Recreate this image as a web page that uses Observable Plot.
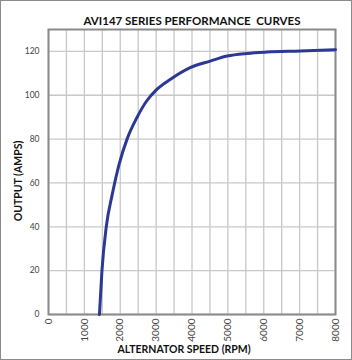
<!DOCTYPE html>
<html>
<head>
<meta charset="utf-8">
<script src="https://cdn.jsdelivr.net/npm/d3@7"></script>
<script src="https://cdn.jsdelivr.net/npm/@observablehq/plot@0.6"></script>
<style>
  html, body { margin: 0; padding: 0; background: #fff; }
  #chart svg { display: block; outline: 1.5px solid #8a8a8a; outline-offset: -1.5px; }
</style>
</head>
<body>
<div id="chart"></div>
<script>
const title = "AVI147 SERIES PERFORMANCE  CURVES";
const xLabel = "ALTERNATOR SPEED (RPM)";
const yLabel = "OUTPUT (AMPS)";
const rpm  = [1420, 1490, 1610, 1780, 1970, 2190, 2470, 2740, 3020, 3400, 3950, 4510, 4980, 5540, 6090, 7020, 8000];
const amps = [0, 20, 40, 55, 68.6, 80, 90, 97.5, 102.7, 107.3, 112.6, 115.6, 117.9, 119.1, 119.7, 120.2, 120.8];
const xTicks = [0, 1000, 2000, 3000, 4000, 5000, 6000, 7000, 8000];
const xGrid = d3.range(0, 8001, 500);
const yTicks = [0, 20, 40, 60, 80, 100, 120];

const data = rpm.map((r, i) => ({rpm: r, amps: amps[i]}));

const chart = Plot.plot({
  width: 352,
  height: 360,
  marginLeft: 48,
  marginRight: 17,
  marginTop: 29,
  marginBottom: 46,
  style: {fontFamily: "Lato, 'Open Sans', sans-serif", background: "#fff"},
  x: {domain: [0, 8000]},
  y: {domain: [0, 130]},
  marks: [
    Plot.gridX(xGrid, {stroke: "#c8c8c8", strokeOpacity: 1, strokeWidth: 1.3}),
    Plot.gridY(yTicks, {stroke: "#c8c8c8", strokeOpacity: 1, strokeWidth: 1.3}),
    Plot.frame({stroke: "#8a8a8a", strokeWidth: 2}),
    Plot.axisY(yTicks, {tickSize: 0, tickPadding: 9, fontSize: 8.5, fill: "#444", label: null}),
    Plot.axisX(xTicks, {tickSize: 0, tickPadding: 4, tickRotate: -90, tickFormat: d => String(d), fontSize: 10, fill: "#444", label: null}),
    Plot.line(data, {x: "rpm", y: "amps", stroke: "#2b3894", strokeWidth: 3, curve: "monotone-x"}),
    Plot.text([title], {frameAnchor: "top", dy: -13, fontSize: 11.5, fontWeight: "bold", fill: "#111"}),
    Plot.text([xLabel], {frameAnchor: "bottom", dx: -8, dy: 38, fontSize: 10.5, fontWeight: "bold", fill: "#111"}),
    Plot.text([yLabel], {frameAnchor: "left", textAnchor: "middle", dx: -30, dy: 9, rotate: -90, fontSize: 10.5, fontWeight: "bold", fill: "#111"})
  ]
});
document.getElementById("chart").append(chart);
</script>
</body>
</html>
